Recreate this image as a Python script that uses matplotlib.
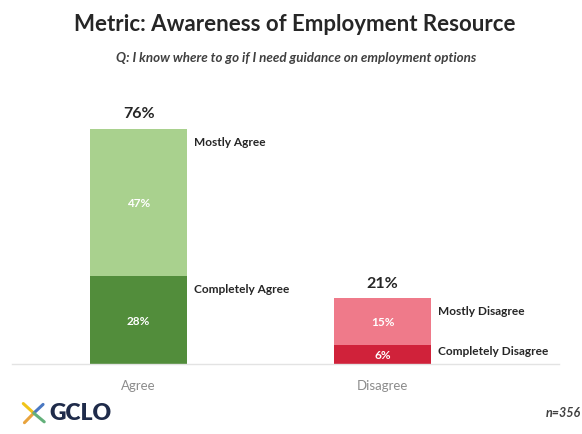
import matplotlib
matplotlib.use("Agg")
import matplotlib.pyplot as plt
from matplotlib.lines import Line2D

plt.rcParams['font.family'] = ['Lato', 'DejaVu Sans']

# Survey results (percent of respondents)
categories = ["Agree", "Disagree"]
strong_labels = ["Completely Agree", "Completely Disagree"]
mild_labels = ["Mostly Agree", "Mostly Disagree"]
strong_values = [28, 6]
mild_values = [47, 15]
total_labels = ["76%", "21%"]

strong_colors = ["#528d3b", "#d0223a"]
mild_colors = ["#a9d18e", "#ef7a8a"]

fig = plt.figure(figsize=(5.82, 4.35), dpi=100)
ax = fig.add_axes([0, 0.161, 1, 0.72])

x = [0, 1]
bar_w = 0.40
ax.bar(x, strong_values, width=bar_w, color=strong_colors)
ax.bar(x, mild_values, width=bar_w, bottom=strong_values, color=mild_colors)

ax.set_xlim(-0.568, 1.817)
ax.set_ylim(0, 100)

for i in x:
    s, m = strong_values[i], mild_values[i]
    top = s + m
    # values inside each segment
    ax.text(i, s / 2, f"{s}%", ha="center", va="center", color="white",
            fontsize=8.5, fontweight="bold")
    ax.text(i, s + m / 2, f"{m}%", ha="center", va="center", color="white",
            fontsize=8.5, fontweight="bold")
    # total above the stack
    ax.text(i, top + 5, total_labels[i], ha="center", va="center",
            color="#262626", fontsize=11.5, fontweight="bold")
    # segment names to the right of the bar
    xr = i + bar_w / 2 + 0.025
    ax.text(xr, top - min(4, 0.3 * m), mild_labels[i], ha="left", va="center",
            color="#262626", fontsize=8.6, fontweight="bold")
    ax.text(xr, s - min(4, 0.3 * s), strong_labels[i], ha="left", va="center",
            color="#262626", fontsize=8.6, fontweight="bold")

ax.set_xticks(x)
ax.set_xticklabels(categories, color="#8c8c8c", fontsize=9.5)
ax.tick_params(axis="x", length=0, pad=11)
ax.set_yticks([])
for side in ["top", "right", "left", "bottom"]:
    ax.spines[side].set_visible(False)

# faint baseline
fig.add_artist(Line2D([0.02, 0.96], [0.161, 0.161], color="#e3e3e3", lw=1))

fig.text(0.507, 0.943, "Metric: Awareness of Employment Resource",
         ha="center", va="center", fontsize=16, fontweight="bold", color="#262626")
fig.text(0.508, 0.867, "Q: I know where to go if I need guidance on employment options",
         ha="center", va="center", fontsize=9.6, fontweight="bold", style="italic",
         color="#404040")

# logo
cx, cy = 0.058, 0.048
for dx, dy, c in [(-0.018, 0.022, "#f0c419"), (0.016, 0.02, "#4a78c2"),
                  (-0.016, -0.022, "#e8a33d"), (0.018, -0.02, "#63b07a")]:
    fig.add_artist(Line2D([cx, cx + dx], [cy, cy + dy], color=c, lw=2.2,
                          solid_capstyle="round"))
fig.text(0.084, 0.049, "GCLO", ha="left", va="center", fontsize=16.5,
         fontweight="heavy", color="#1f2b4a")
fig.text(0.998, 0.051, "n=356", ha="right", va="center", fontsize=9,
         fontweight="bold", style="italic", color="#404040")

fig.savefig("out.png", dpi=100, facecolor="white")
